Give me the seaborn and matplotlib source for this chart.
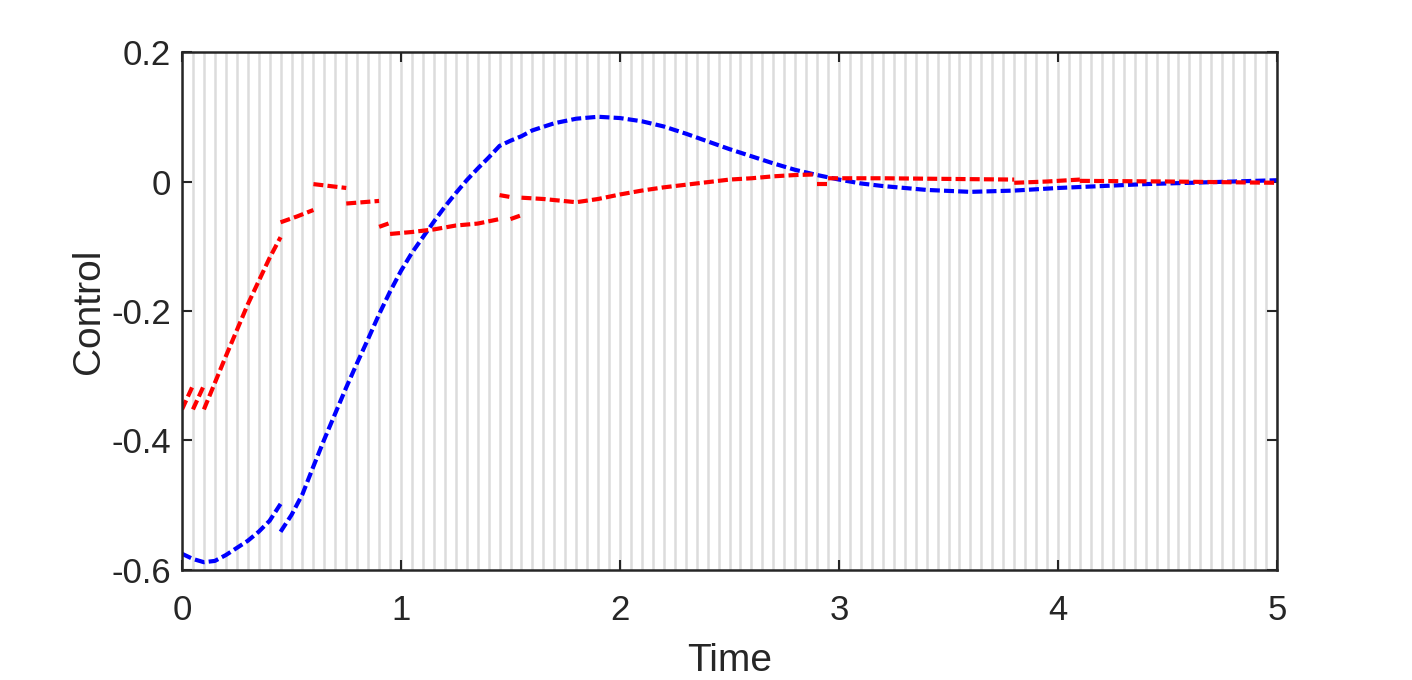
import numpy as np
import pandas as pd
import matplotlib
matplotlib.use("Agg")
import matplotlib.pyplot as plt
from matplotlib.ticker import MultipleLocator
import seaborn as sns

# Red control signal: piecewise pieces (segment id, time, value)
red_seg = [0, 0,
           1, 1,
           2, 2, 2, 2, 2,
           3, 3, 3,
           4, 4,
           5, 5,
           6, 6,
           7, 7, 7, 7, 7, 7,
           8, 8,
           9, 9,
           10, 10, 10, 10, 10, 10, 10, 10, 10, 10, 10, 10, 10, 10,
           11, 11,
           12, 12, 12, 12,
           13, 13, 13,
           14, 14, 14]
red_time = [0.0, 0.05,
            0.05, 0.10,
            0.10, 0.20, 0.30, 0.40, 0.45,
            0.45, 0.525, 0.60,
            0.60, 0.75,
            0.75, 0.90,
            0.90, 0.95,
            0.95, 1.05, 1.15, 1.25, 1.35, 1.45,
            1.45, 1.50,
            1.50, 1.55,
            1.55, 1.65, 1.80, 1.90, 2.00, 2.10, 2.20, 2.30, 2.40, 2.50, 2.60, 2.70, 2.80, 2.90,
            2.90, 2.95,
            2.95, 3.20, 3.50, 3.80,
            3.80, 3.95, 4.10,
            4.10, 4.50, 5.00]
red_value = [-0.352, -0.315,
             -0.352, -0.315,
             -0.352, -0.270, -0.190, -0.118, -0.086,
             -0.063, -0.054, -0.044,
             -0.004, -0.010,
             -0.034, -0.030,
             -0.070, -0.064,
             -0.081, -0.078, -0.074, -0.068, -0.065, -0.058,
             -0.021, -0.024,
             -0.058, -0.052,
             -0.025, -0.027, -0.032, -0.027, -0.020, -0.014, -0.009, -0.005, -0.001, 0.003, 0.005, 0.008, 0.010, 0.011,
             -0.004, -0.004,
             0.005, 0.005, 0.004, 0.003,
             -0.002, 0.000, 0.003,
             0.001, 0.000, -0.002]

# Blue control signal
blue_seg = [0] * 10 + [1] * 47
blue_time = [0.0, 0.05, 0.10, 0.15, 0.20, 0.25, 0.30, 0.35, 0.40, 0.45,
             0.45, 0.50, 0.55, 0.60, 0.65, 0.70, 0.75, 0.80, 0.85, 0.90,
             0.95, 1.00, 1.05, 1.10, 1.15, 1.20, 1.25, 1.30, 1.35, 1.40,
             1.45, 1.50, 1.55, 1.60, 1.70, 1.80, 1.90, 2.00, 2.10, 2.20,
             2.30, 2.40, 2.50, 2.60, 2.70, 2.80, 2.90, 3.00, 3.10, 3.20,
             3.40, 3.60, 3.80, 4.00, 4.40, 4.80, 5.00]
blue_value = [-0.575, -0.583, -0.588, -0.586, -0.577, -0.566, -0.555, -0.541, -0.524, -0.498,
              -0.541, -0.515, -0.483, -0.440, -0.398, -0.358, -0.318, -0.280, -0.243, -0.205,
              -0.170, -0.138, -0.110, -0.086, -0.062, -0.039, -0.018, 0.002, 0.020, 0.037,
              0.055, 0.063, 0.070, 0.079, 0.090, 0.097, 0.100, 0.098, 0.093, 0.085,
              0.074, 0.062, 0.050, 0.039, 0.028, 0.018, 0.010, 0.003, -0.003, -0.007,
              -0.013, -0.016, -0.014, -0.010, -0.004, 0.000, 0.002]

sample_step = 0.05

df = pd.concat([
    pd.DataFrame({"Time": blue_time, "Control": blue_value, "seg": blue_seg, "series": "u1"}),
    pd.DataFrame({"Time": red_time, "Control": red_value, "seg": red_seg, "series": "u2"}),
], ignore_index=True)
df["unit"] = df["series"] + "_" + df["seg"].astype(str)

sns.set_style("ticks")
plt.rcParams["font.family"] = ["Liberation Sans", "DejaVu Sans"]

fig = plt.figure(figsize=(14.12, 6.8), dpi=100)
ax = fig.add_axes([0.1289, 0.1618, 0.7755, 0.7617])

sns.lineplot(data=df, x="Time", y="Control", hue="series", units="unit",
             estimator=None, palette={"u1": "#0000ff", "u2": "#ff0000"},
             hue_order=["u1", "u2"], legend=False, linewidth=3.0,
             linestyle=(0, (2.4, 1.0)), sort=False, ax=ax)

ax.set_xlim(0, 5)
ax.set_ylim(-0.6, 0.2)
ax.set_xticks([0, 1, 2, 3, 4, 5])
ax.set_xticklabels(["0", "1", "2", "3", "4", "5"])
ax.set_yticks([-0.6, -0.4, -0.2, 0, 0.2])
ax.set_yticklabels(["-0.6", "-0.4", "-0.2", "0", "0.2"])

# sample instants as light vertical grid
ax.xaxis.set_minor_locator(MultipleLocator(sample_step))
ax.grid(which="both", axis="x", color="#dcdcdc", linewidth=1.8)
ax.grid(which="both", axis="y", visible=False)
ax.set_axisbelow(True)

ax.tick_params(which="major", direction="in", length=7, width=1.5, colors="#262626",
               top=True, right=True, labelsize=25)
ax.tick_params(axis="x", which="major", pad=17)
ax.tick_params(axis="y", which="major", pad=8)
ax.tick_params(which="minor", length=0)
for s in ax.spines.values():
    s.set_linewidth(1.8)
    s.set_color("#262626")

ax.set_xlabel("Time", fontsize=28, color="#262626", labelpad=12)
ax.set_ylabel("Control", fontsize=28, color="#262626", labelpad=3)

fig.savefig("out.png", dpi=100)
